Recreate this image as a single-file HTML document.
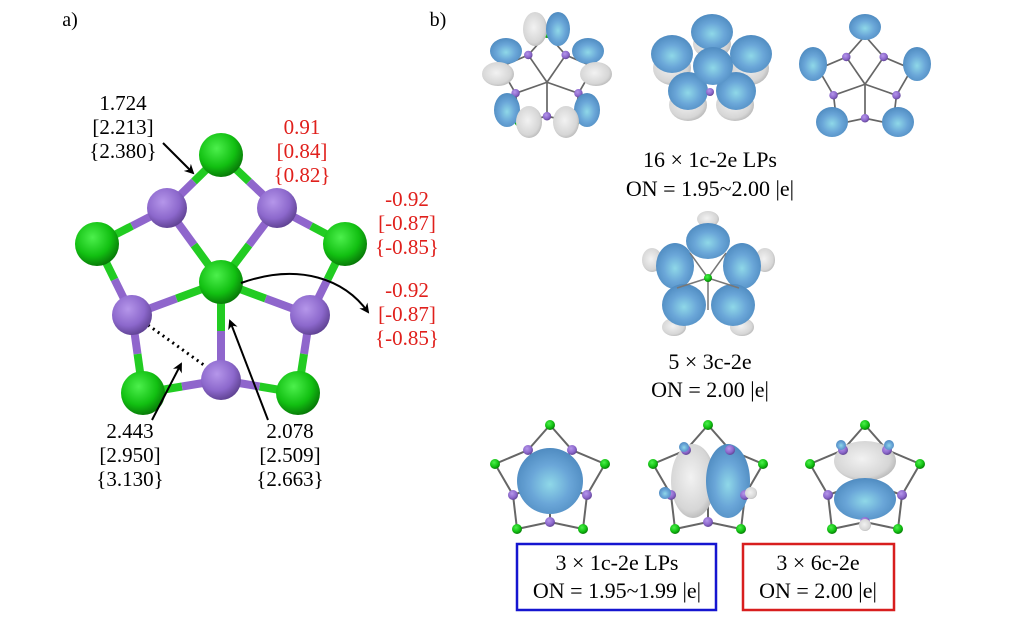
<!DOCTYPE html>
<html><head><meta charset="utf-8"><style>
html,body{margin:0;padding:0;background:#fff}
svg{display:block}
text{font-family:"Liberation Serif",serif;font-size:21px;text-anchor:middle}
.r{fill:#e0201c}
</style></head><body>
<svg width="1024" height="619" viewBox="0 0 1024 619" xmlns="http://www.w3.org/2000/svg">
<defs>
<radialGradient id="gG" cx="0.4" cy="0.35" r="0.7"><stop offset="0" stop-color="#4cf04c"/><stop offset="0.6" stop-color="#12c012"/><stop offset="1" stop-color="#067006"/></radialGradient>
<radialGradient id="gP" cx="0.4" cy="0.35" r="0.7"><stop offset="0" stop-color="#b596ea"/><stop offset="0.6" stop-color="#8c68cc"/><stop offset="1" stop-color="#5a3e8c"/></radialGradient>
<radialGradient id="gB" cx="0.5" cy="0.55" r="0.6"><stop offset="0" stop-color="#8fd8e8"/><stop offset="0.5" stop-color="#6aa6d8"/><stop offset="1" stop-color="#4a86bc"/></radialGradient>
<radialGradient id="gW" cx="0.45" cy="0.45" r="0.65"><stop offset="0" stop-color="#f2f2f2"/><stop offset="0.7" stop-color="#d6d6d6"/><stop offset="1" stop-color="#a8a8a8"/></radialGradient>
<marker id="ah" markerWidth="10" markerHeight="10" refX="8" refY="5" orient="auto" markerUnits="userSpaceOnUse"><path d="M0,0 L10,5 L0,10 L3,5 Z" fill="#000"/></marker>
<g id="skb" stroke="#666" stroke-width="2" fill="none">
<polyline points="0,-52 -22,-27 -55,-13 -37,18 -33,52 0,45 33,52 37,18 55,-13 22,-27 0,-52"/>
<line x1="0" y1="5" x2="-22" y2="-27"/><line x1="0" y1="5" x2="22" y2="-27"/>
<line x1="0" y1="5" x2="-37" y2="18"/><line x1="0" y1="5" x2="37" y2="18"/>
<line x1="0" y1="5" x2="0" y2="45"/>
</g>
<g id="ska">
<circle cx="0" cy="-52" r="5" fill="url(#gG)"/><circle cx="-55" cy="-13" r="5" fill="url(#gG)"/><circle cx="55" cy="-13" r="5" fill="url(#gG)"/>
<circle cx="-33" cy="52" r="5" fill="url(#gG)"/><circle cx="33" cy="52" r="5" fill="url(#gG)"/>
<circle cx="-22" cy="-27" r="5" fill="url(#gP)"/><circle cx="22" cy="-27" r="5" fill="url(#gP)"/>
<circle cx="-37" cy="18" r="5" fill="url(#gP)"/><circle cx="37" cy="18" r="5" fill="url(#gP)"/><circle cx="0" cy="45" r="5" fill="url(#gP)"/>
</g>
</defs>

<text x="70" y="26" style="font-size:20px">a)</text>
<text x="438" y="26" style="font-size:20px">b)</text>

<g stroke-width="8" stroke-linecap="butt">
<line x1="221" y1="155" x2="194" y2="181.5" stroke="#22cc22"/><line x1="194" y1="181.5" x2="167" y2="208" stroke="#8f66cc"/>
<line x1="221" y1="155" x2="249" y2="181.5" stroke="#22cc22"/><line x1="249" y1="181.5" x2="277" y2="208" stroke="#8f66cc"/>
<line x1="167" y1="208" x2="132" y2="226" stroke="#8f66cc"/><line x1="132" y1="226" x2="97" y2="244" stroke="#22cc22"/>
<line x1="277" y1="208" x2="311" y2="226" stroke="#8f66cc"/><line x1="311" y1="226" x2="345" y2="244" stroke="#22cc22"/>
<line x1="167" y1="208" x2="194" y2="245" stroke="#8f66cc"/><line x1="194" y1="245" x2="221" y2="282" stroke="#22cc22"/>
<line x1="277" y1="208" x2="249" y2="245" stroke="#8f66cc"/><line x1="249" y1="245" x2="221" y2="282" stroke="#22cc22"/>
<line x1="97" y1="244" x2="114.5" y2="279.5" stroke="#22cc22"/><line x1="114.5" y1="279.5" x2="132" y2="315" stroke="#8f66cc"/>
<line x1="345" y1="244" x2="327.5" y2="279.5" stroke="#22cc22"/><line x1="327.5" y1="279.5" x2="310" y2="315" stroke="#8f66cc"/>
<line x1="132" y1="315" x2="176.5" y2="298.5" stroke="#8f66cc"/><line x1="176.5" y1="298.5" x2="221" y2="282" stroke="#22cc22"/>
<line x1="310" y1="315" x2="265.5" y2="298.5" stroke="#8f66cc"/><line x1="265.5" y1="298.5" x2="221" y2="282" stroke="#22cc22"/>
<line x1="221" y1="282" x2="221" y2="331" stroke="#22cc22"/><line x1="221" y1="331" x2="221" y2="380" stroke="#8f66cc"/>
<line x1="132" y1="315" x2="137.5" y2="354" stroke="#8f66cc"/><line x1="137.5" y1="354" x2="143" y2="393" stroke="#22cc22"/>
<line x1="310" y1="315" x2="304" y2="354" stroke="#8f66cc"/><line x1="304" y1="354" x2="298" y2="393" stroke="#22cc22"/>
<line x1="143" y1="393" x2="182" y2="386.5" stroke="#22cc22"/><line x1="182" y1="386.5" x2="221" y2="380" stroke="#8f66cc"/>
<line x1="298" y1="393" x2="259.5" y2="386.5" stroke="#22cc22"/><line x1="259.5" y1="386.5" x2="221" y2="380" stroke="#8f66cc"/>
</g>
<line x1="148" y1="325" x2="208" y2="368" stroke="#000" stroke-width="3" stroke-dasharray="2,4"/>
<g>
<circle cx="221" cy="155" r="22" fill="url(#gG)"/>
<circle cx="167" cy="208" r="20" fill="url(#gP)"/><circle cx="277" cy="208" r="20" fill="url(#gP)"/>
<circle cx="97" cy="244" r="22" fill="url(#gG)"/><circle cx="345" cy="244" r="22" fill="url(#gG)"/>
<circle cx="221" cy="282" r="22" fill="url(#gG)"/>
<circle cx="132" cy="315" r="20" fill="url(#gP)"/><circle cx="310" cy="315" r="20" fill="url(#gP)"/>
<circle cx="221" cy="380" r="20" fill="url(#gP)"/>
<circle cx="143" cy="393" r="22" fill="url(#gG)"/><circle cx="298" cy="393" r="22" fill="url(#gG)"/>
</g>

<g stroke="#000" stroke-width="2" fill="none" marker-end="url(#ah)">
<line x1="163" y1="143" x2="193" y2="173"/>
<path d="M241,283 C300,262 345,280 368,312"/>
<line x1="152" y1="420" x2="181" y2="364"/>
<line x1="268" y1="420" x2="230" y2="321"/>
</g>

<text x="123" y="110">1.724</text><text x="123" y="134">[2.213]</text><text x="123" y="158">{2.380}</text>
<text class="r" x="302" y="134">0.91</text><text class="r" x="302" y="158">[0.84]</text><text class="r" x="302" y="182">{0.82}</text>
<text class="r" x="407" y="206">-0.92</text><text class="r" x="407" y="230">[-0.87]</text><text class="r" x="407" y="254">{-0.85}</text>
<text class="r" x="407" y="297">-0.92</text><text class="r" x="407" y="321">[-0.87]</text><text class="r" x="407" y="345">{-0.85}</text>
<text x="130" y="438">2.443</text><text x="130" y="462">[2.950]</text><text x="130" y="486">{3.130}</text>
<text x="290" y="438">2.078</text><text x="290" y="462">[2.509]</text><text x="290" y="486">{2.663}</text>

<g transform="translate(547,78) scale(0.85)"><use href="#skb"/><use href="#ska"/></g>
<g>
<ellipse cx="535" cy="29" rx="12" ry="17" fill="url(#gW)"/><ellipse cx="558" cy="29" rx="12" ry="17" fill="url(#gB)"/>
<ellipse cx="506" cy="51" rx="16" ry="13" fill="url(#gB)"/><ellipse cx="588" cy="51" rx="16" ry="13" fill="url(#gB)"/>
<ellipse cx="498" cy="74" rx="16" ry="12" fill="url(#gW)"/><ellipse cx="596" cy="74" rx="16" ry="12" fill="url(#gW)"/>
<ellipse cx="507" cy="110" rx="13" ry="17" fill="url(#gB)"/><ellipse cx="587" cy="110" rx="13" ry="17" fill="url(#gB)"/>
<ellipse cx="529" cy="122" rx="13" ry="16" fill="url(#gW)"/><ellipse cx="566" cy="122" rx="13" ry="16" fill="url(#gW)"/>
</g>
<g>
<ellipse cx="672" cy="68" rx="19" ry="17" fill="url(#gW)"/><ellipse cx="750" cy="68" rx="19" ry="17" fill="url(#gW)"/>
<ellipse cx="688" cy="105" rx="19" ry="16" fill="url(#gW)"/><ellipse cx="735" cy="105" rx="19" ry="16" fill="url(#gW)"/>
<ellipse cx="712" cy="44" rx="19" ry="14" fill="url(#gW)"/>
<ellipse cx="712" cy="32" rx="21" ry="18" fill="url(#gB)"/>
<ellipse cx="672" cy="54" rx="21" ry="19" fill="url(#gB)"/><ellipse cx="751" cy="54" rx="21" ry="19" fill="url(#gB)"/>
<ellipse cx="688" cy="91" rx="20" ry="19" fill="url(#gB)"/><ellipse cx="736" cy="91" rx="20" ry="19" fill="url(#gB)"/>
<ellipse cx="713" cy="66" rx="20" ry="19" fill="url(#gB)"/>
<circle cx="710" cy="92" r="4" fill="url(#gP)"/>
</g>
<g transform="translate(865,80) scale(0.85)"><use href="#skb"/><use href="#ska"/></g>
<g>
<ellipse cx="865" cy="27" rx="16" ry="13" fill="url(#gB)"/>
<ellipse cx="813" cy="64" rx="14" ry="17" fill="url(#gB)"/><ellipse cx="917" cy="64" rx="14" ry="17" fill="url(#gB)"/>
<ellipse cx="832" cy="122" rx="16" ry="15" fill="url(#gB)"/><ellipse cx="898" cy="122" rx="16" ry="15" fill="url(#gB)"/>
</g>

<text x="710" y="167" style="font-size:22px">16 × 1c-2e LPs</text>
<text x="710" y="196" style="font-size:22px">ON = 1.95~2.00 |e|</text>

<g>
<ellipse cx="708" cy="219" rx="11" ry="8" fill="url(#gW)"/>
<ellipse cx="652" cy="260" rx="10" ry="12" fill="url(#gW)"/><ellipse cx="765" cy="260" rx="10" ry="12" fill="url(#gW)"/>
<ellipse cx="674" cy="327" rx="12" ry="9" fill="url(#gW)"/><ellipse cx="742" cy="327" rx="12" ry="9" fill="url(#gW)"/>
<ellipse cx="708" cy="241" rx="22" ry="18" fill="url(#gB)"/>
<ellipse cx="675" cy="266" rx="19" ry="23" fill="url(#gB)"/><ellipse cx="742" cy="266" rx="19" ry="23" fill="url(#gB)"/>
<ellipse cx="684" cy="305" rx="22" ry="21" fill="url(#gB)"/><ellipse cx="733" cy="305" rx="22" ry="21" fill="url(#gB)"/>
<g stroke="#777" stroke-width="1.5"><line x1="708" y1="278" x2="690" y2="253"/><line x1="708" y1="278" x2="726" y2="253"/><line x1="708" y1="278" x2="677" y2="288"/><line x1="708" y1="278" x2="739" y2="288"/><line x1="708" y1="278" x2="708" y2="310"/></g>
<circle cx="708" cy="278" r="4" fill="url(#gG)"/>
</g>
<text x="710" y="369" style="font-size:22px">5 × 3c-2e</text>
<text x="710" y="397" style="font-size:22px">ON = 2.00 |e|</text>

<g transform="translate(550,477)"><use href="#skb"/>
<circle cx="0" cy="4" r="33" fill="url(#gB)"/><use href="#ska"/></g>
<g transform="translate(708,477)"><use href="#skb"/>
<ellipse cx="-15" cy="4" rx="22" ry="37" fill="url(#gW)"/><ellipse cx="20" cy="4" rx="22" ry="37" fill="url(#gB)"/>
<use href="#ska"/>
<circle cx="-24" cy="-30" r="5" fill="url(#gB)"/><circle cx="-43" cy="16" r="6" fill="url(#gB)"/><circle cx="43" cy="16" r="6" fill="url(#gW)"/></g>
<g transform="translate(865,477)"><use href="#skb"/>
<ellipse cx="0" cy="-16" rx="31" ry="20" fill="url(#gW)"/><ellipse cx="0" cy="22" rx="31" ry="21" fill="url(#gB)"/>
<use href="#ska"/>
<circle cx="-24" cy="-32" r="5" fill="url(#gB)"/><circle cx="24" cy="-32" r="5" fill="url(#gB)"/><circle cx="0" cy="48" r="6" fill="url(#gW)"/></g>

<rect x="517" y="544" width="199" height="66" fill="none" stroke="#1515d0" stroke-width="2.5"/>
<rect x="743" y="544" width="151" height="66" fill="none" stroke="#d81e1e" stroke-width="2.5"/>
<text x="617" y="570" style="font-size:22px">3 × 1c-2e LPs</text>
<text x="617" y="598" style="font-size:22px">ON = 1.95~1.99 |e|</text>
<text x="818" y="570" style="font-size:22px">3 × 6c-2e</text>
<text x="818" y="598" style="font-size:22px">ON = 2.00 |e|</text>
</svg>
</body></html>
